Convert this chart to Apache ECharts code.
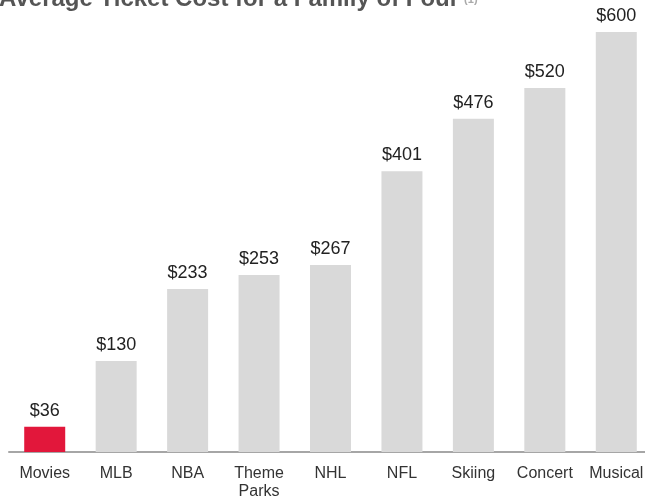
<!DOCTYPE html>
<html>
<head>
<meta charset="utf-8">
<script src="https://cdn.jsdelivr.net/npm/echarts@6/dist/echarts.min.js"></script>
<style>
  html, body { margin: 0; padding: 0; background: #fff; }
  #main { width: 645px; height: 498px; }
</style>
</head>
<body>
<div id="main"></div>
<script>
// data
var categories = ['Movies', 'MLB', 'NBA', 'Theme\nParks', 'NHL', 'NFL', 'Skiing', 'Concert', 'Musical'];
var costs = [36, 130, 233, 253, 267, 401, 476, 520, 600];

var myChart = echarts.init(document.getElementById('main'));
myChart.setOption({
    animation: false,
    title: {
        text: '{t|Average Ticket Cost for a Family of Four} {s|(1)}',
        left: -6,
        top: -18,
        textStyle: {
            rich: {
                t: { fontFamily: 'Liberation Sans, Arial', fontSize: 24, fontWeight: 'bold', color: '#555' },
                s: { fontFamily: 'Liberation Sans, Arial', fontSize: 11, color: '#aaa', verticalAlign: 'bottom', padding: [0, 0, 6, 0] }
            }
        }
    },
    grid: {
        left: 9,
        width: 643,
        top: 32,
        bottom: 46,
        outerBoundsMode: 'none',
        containLabel: false
    },
    xAxis: {
        type: 'category',
        data: categories,
        axisTick: { show: false },
        axisLine: { lineStyle: { color: '#a6a6a6', width: 2 } },
        axisLabel: {
            color: '#333',
            fontSize: 16,
            fontFamily: 'Liberation Sans, Arial',
            margin: 13,
            lineHeight: 18,
            interval: 0
        }
    },
    yAxis: {
        type: 'value',
        min: 0,
        max: 600,
        show: false,
        splitLine: { show: false }
    },
    series: [
        {
            type: 'bar',
            barWidth: 41,
            data: costs.map(function (v, i) {
                return {
                    value: v,
                    itemStyle: { color: i === 0 ? '#e2173b' : '#d9d9d9' }
                };
            }),
            label: {
                show: true,
                position: 'top',
                distance: 7,
                color: '#222',
                fontSize: 18,
                fontFamily: 'Liberation Sans, Arial',
                formatter: function (p) { return '$' + p.value; }
            }
        }
    ]
});
</script>
</body>
</html>
